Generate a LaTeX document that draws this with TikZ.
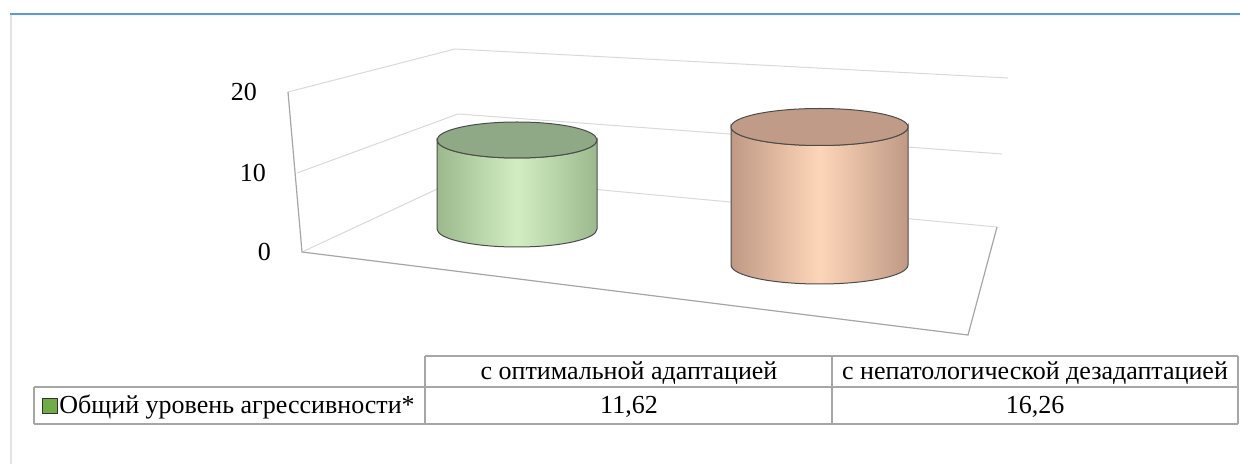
\documentclass[tikz,border=0pt]{standalone}
\usepackage{fontspec}
\setmainfont{Liberation Serif}

\definecolor{gridGray}{HTML}{D9D9D9}
\definecolor{axisGray}{HTML}{A6A6A6}
\definecolor{frameBlue}{HTML}{5B9BD5}
\definecolor{frameGray}{HTML}{E3E3E3}
\definecolor{greenTop}{HTML}{8FA986}
\definecolor{greenEdge}{HTML}{9BB98D}
\definecolor{greenMid}{HTML}{D3EDC3}
\definecolor{peachTop}{HTML}{C09B87}
\definecolor{peachEdge}{HTML}{C09985}
\definecolor{peachMid}{HTML}{FDD6B9}
\definecolor{legendGreen}{HTML}{70AD47}

\newcommand{\wallTop}{(288,92) -- (455,49) -- (1008,78)}
\newcommand{\wallMid}{(297,173) -- (458,114) -- (1002,154)}
\newcommand{\wallLow}{(302,252) -- (463,177) -- (997,227)}
\newcommand{\floorFront}{(288,92) -- (302,252) -- (968,335) -- (997,227)}

\begin{document}
\begin{tikzpicture}[x=0.5pt, y=-0.5pt, font=\fontsize{13}{15}\selectfont,
    grid/.style={gridGray, line width=0.5pt},
    tableLine/.style={axisGray, line width=0.9pt}]
        \useasboundingbox (0,0) rectangle (1240,464);
        \draw[frameBlue, line width=1.1pt] (10,14) -- (1240,14);
        \draw[frameGray, line width=1pt] (11,15) -- (11,464);

        % walls and floor
        \draw[grid] \wallTop \wallMid \wallLow;
        \draw[axisGray, line width=0.6pt] \floorFront;

        \node[anchor=east] (yTwenty) at (264,92) {20};
        \node[anchor=east] (yTen) at (273,173) {10};
        \node[anchor=east] (yZero) at (278,252) {0};

        % cylinder 1
        \draw[black!70, line width=0.5pt, left color=greenEdge, right color=greenEdge, middle color=greenMid]
            (437,140) -- (437,229) arc[start angle=180, end angle=0, x radius=80, y radius=18]
            -- (597,140) arc[start angle=0, end angle=180, x radius=80, y radius=18] -- cycle;
        \draw[black!70, line width=0.5pt, fill=greenTop] (517,140) ellipse[x radius=80, y radius=18];

        % cylinder 2
        \draw[black!70, line width=0.5pt, left color=peachEdge, right color=peachEdge, middle color=peachMid]
            (731,127) -- (731,265) arc[start angle=180, end angle=0, x radius=88.5, y radius=19]
            -- (908,127) arc[start angle=0, end angle=180, x radius=88.5, y radius=18.5] -- cycle;
        \draw[black!70, line width=0.5pt, fill=peachTop] (819.5,127) ellipse[x radius=88.5, y radius=18.5];

        % table
        \draw[tableLine] (425,356) -- (1238,356);
        \draw[tableLine] (34,387) -- (1238,387);
        \draw[tableLine] (34,424) -- (1238,424);
        \draw[tableLine] (34,387) -- (34,424);
        \draw[tableLine] (425,356) -- (425,424);
        \draw[tableLine] (832,356) -- (832,424);
        \draw[tableLine] (1238,356) -- (1238,424);

        \node (hOpt) at (629,373) {с оптимальной адаптацией};
        \node (hDez) at (1035,373) {с непатологической дезадаптацией};
        \node[draw=black!80, fill=legendGreen, line width=0.5pt, minimum size=7.5pt, inner sep=0pt] (serKey) at (49.5,405.5) {};
        \node[anchor=west, inner sep=0pt] (serName) at (59,407) {Общий уровень агрессивности*};
        \node (vOpt) at (629,407) {11,62};
        \node (vDez) at (1035,407) {16,26};
    \end{tikzpicture}
\end{document}
